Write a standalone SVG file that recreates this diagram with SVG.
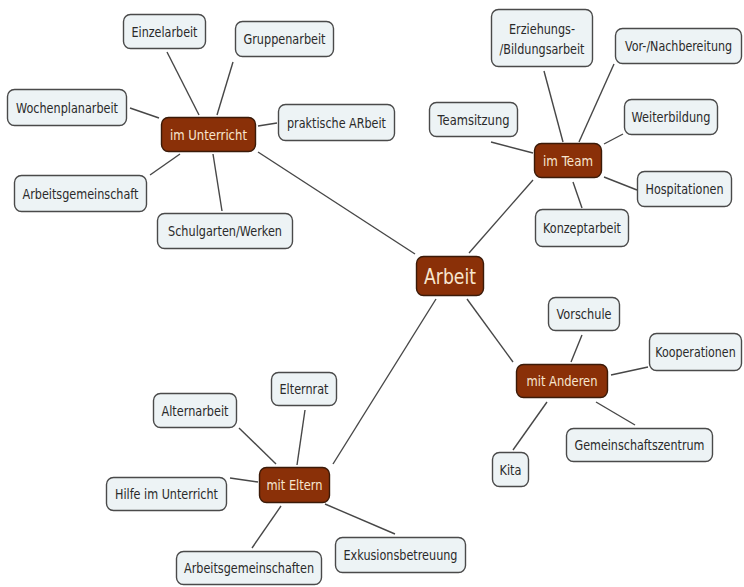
<svg xmlns="http://www.w3.org/2000/svg" width="744" height="587" viewBox="0 0 744 587">
<style>
.leaf rect{fill:#edf3f5;stroke:#4a4a4a;stroke-width:1.4}
.hub rect{fill:#8a3008;stroke:#3b1a08;stroke-width:1.4}
text{font-family:"DejaVu Sans","Verdana","Liberation Sans",sans-serif;font-size:14px;text-anchor:middle}
.leaf text{fill:#2a2a2a}
.hub text{fill:#f8e6cf}
#connectors line{stroke:#474747;stroke-width:1.4;fill:none}
</style>
<rect width="744" height="587" fill="#ffffff"/>
<g id="connectors">
<line x1="167" y1="52" x2="199" y2="115"/>
<line x1="233" y1="62" x2="217" y2="115"/>
<line x1="130" y1="108" x2="159" y2="118"/>
<line x1="258" y1="126" x2="277" y2="123"/>
<line x1="150" y1="175" x2="180" y2="154"/>
<line x1="213" y1="154" x2="222" y2="211"/>
<line x1="258" y1="152" x2="415" y2="254"/>
<line x1="544" y1="71" x2="563" y2="142"/>
<line x1="614" y1="64" x2="579" y2="142"/>
<line x1="491" y1="142" x2="533" y2="153"/>
<line x1="623" y1="134" x2="604" y2="144"/>
<line x1="604" y1="177" x2="637" y2="190"/>
<line x1="573" y1="182" x2="582" y2="208"/>
<line x1="533" y1="180" x2="469" y2="253"/>
<line x1="467" y1="299" x2="513" y2="362"/>
<line x1="582" y1="335" x2="571" y2="362"/>
<line x1="648" y1="367" x2="611" y2="375"/>
<line x1="596" y1="402" x2="635" y2="425"/>
<line x1="547" y1="402" x2="513" y2="450"/>
<line x1="436" y1="299" x2="333" y2="464"/>
<line x1="305" y1="410" x2="297" y2="465"/>
<line x1="239" y1="428" x2="276" y2="464"/>
<line x1="230" y1="478" x2="258" y2="482"/>
<line x1="281" y1="506" x2="252" y2="548"/>
<line x1="325" y1="504" x2="395" y2="534"/>
</g>
<g id="arbeit" class="hub"><rect x="416.5" y="256.5" width="67" height="39" rx="7"/><text x="450" y="284" style="font-size:22px" textLength="52" lengthAdjust="spacingAndGlyphs">Arbeit</text></g>
<g id="im-unterricht" class="hub"><rect x="161.5" y="117.5" width="94" height="34" rx="7"/><text x="208.5" y="139.5" textLength="77" lengthAdjust="spacingAndGlyphs">im Unterricht</text></g>
<g id="im-team" class="hub"><rect x="534.5" y="143.5" width="67" height="34" rx="7"/><text x="568" y="165.5" textLength="50" lengthAdjust="spacingAndGlyphs">im Team</text></g>
<g id="mit-anderen" class="hub"><rect x="516.5" y="364.5" width="91" height="33" rx="7"/><text x="562" y="386" textLength="71" lengthAdjust="spacingAndGlyphs">mit Anderen</text></g>
<g id="mit-eltern" class="hub"><rect x="259.5" y="467.5" width="70" height="35" rx="7"/><text x="294.5" y="490" textLength="56" lengthAdjust="spacingAndGlyphs">mit Eltern</text></g>

<g id="einzelarbeit" class="leaf"><rect x="123.5" y="14.5" width="82" height="34" rx="7"/><text x="164.5" y="36.5" textLength="66" lengthAdjust="spacingAndGlyphs">Einzelarbeit</text></g>
<g id="gruppenarbeit" class="leaf"><rect x="235.5" y="21.5" width="98" height="35" rx="7"/><text x="284.5" y="44" textLength="82" lengthAdjust="spacingAndGlyphs">Gruppenarbeit</text></g>
<g id="wochenplanarbeit" class="leaf"><rect x="7.5" y="89.5" width="119" height="36" rx="7"/><text x="67" y="112.5" textLength="102" lengthAdjust="spacingAndGlyphs">Wochenplanarbeit</text></g>
<g id="praktische-arbeit" class="leaf"><rect x="278.5" y="104.5" width="116" height="36" rx="7"/><text x="336.5" y="127.5" textLength="99" lengthAdjust="spacingAndGlyphs">praktische ARbeit</text></g>
<g id="arbeitsgemeinschaft" class="leaf"><rect x="14.5" y="175.5" width="132" height="36" rx="7"/><text x="80.5" y="198.5" textLength="116" lengthAdjust="spacingAndGlyphs">Arbeitsgemeinschaft</text></g>
<g id="schulgarten-werken" class="leaf"><rect x="157.5" y="213.5" width="135" height="35" rx="7"/><text x="225" y="236" textLength="114" lengthAdjust="spacingAndGlyphs">Schulgarten/Werken</text></g>

<g id="erziehungs-bildungsarbeit" class="leaf"><rect x="491.5" y="9.5" width="101" height="57" rx="7"/><text x="542" y="34" textLength="66" lengthAdjust="spacingAndGlyphs">Erziehungs-</text><text x="542" y="53.5" textLength="85" lengthAdjust="spacingAndGlyphs">/Bildungsarbeit</text></g>
<g id="vor-nachbereitung" class="leaf"><rect x="615.5" y="28.5" width="126" height="35" rx="7"/><text transform="translate(678.5,51) scale(0.795,1)">Vor-/Nachbereitung</text></g>
<g id="teamsitzung" class="leaf"><rect x="429.5" y="102.5" width="88" height="34" rx="7"/><text x="473.5" y="124.5" textLength="72" lengthAdjust="spacingAndGlyphs">Teamsitzung</text></g>
<g id="weiterbildung" class="leaf"><rect x="624.5" y="99.5" width="93" height="35" rx="7"/><text x="671" y="122" textLength="79" lengthAdjust="spacingAndGlyphs">Weiterbildung</text></g>
<g id="hospitationen" class="leaf"><rect x="637.5" y="171.5" width="94" height="35" rx="7"/><text x="684.5" y="194" textLength="78" lengthAdjust="spacingAndGlyphs">Hospitationen</text></g>
<g id="konzeptarbeit" class="leaf"><rect x="535.5" y="209.5" width="93" height="37" rx="7"/><text x="582" y="233" textLength="78" lengthAdjust="spacingAndGlyphs">Konzeptarbeit</text></g>

<g id="vorschule" class="leaf"><rect x="548.5" y="297.5" width="71" height="33" rx="7"/><text x="584" y="319" textLength="55" lengthAdjust="spacingAndGlyphs">Vorschule</text></g>
<g id="kooperationen" class="leaf"><rect x="649.5" y="333.5" width="92" height="37" rx="7"/><text transform="translate(695.5,357) scale(0.79,1)">Kooperationen</text></g>
<g id="gemeinschaftszentrum" class="leaf"><rect x="566.5" y="428.5" width="146" height="33" rx="7"/><text x="639.5" y="450" textLength="130" lengthAdjust="spacingAndGlyphs">Gemeinschaftszentrum</text></g>
<g id="kita" class="leaf"><rect x="492.5" y="452.5" width="36" height="34" rx="7"/><text x="510.5" y="474.5" textLength="22" lengthAdjust="spacingAndGlyphs">Kita</text></g>

<g id="elternrat" class="leaf"><rect x="271.5" y="372.5" width="65" height="33" rx="7"/><text x="304" y="394" textLength="49" lengthAdjust="spacingAndGlyphs">Elternrat</text></g>
<g id="alternarbeit" class="leaf"><rect x="153.5" y="393.5" width="83" height="34" rx="7"/><text x="195" y="415.5" textLength="67" lengthAdjust="spacingAndGlyphs">Alternarbeit</text></g>
<g id="hilfe-im-unterricht" class="leaf"><rect x="106.5" y="477.5" width="120" height="33" rx="7"/><text x="166.5" y="499" textLength="103" lengthAdjust="spacingAndGlyphs">Hilfe im Unterricht</text></g>
<g id="arbeitsgemeinschaften" class="leaf"><rect x="176.5" y="551.5" width="145" height="33" rx="7"/><text x="249" y="573" textLength="130" lengthAdjust="spacingAndGlyphs">Arbeitsgemeinschaften</text></g>
<g id="exkusionsbetreuung" class="leaf"><rect x="335.5" y="537.5" width="130" height="35" rx="7"/><text x="400.5" y="560" textLength="114" lengthAdjust="spacingAndGlyphs">Exkusionsbetreuung</text></g>
</svg>
